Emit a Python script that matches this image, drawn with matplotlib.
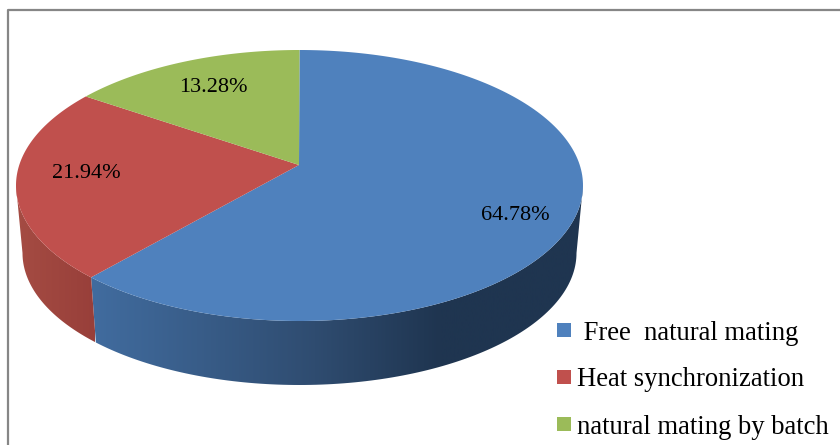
import numpy as np
import matplotlib
matplotlib.use('Agg')
import matplotlib.pyplot as plt
from matplotlib.patches import Polygon, Rectangle
from matplotlib.colors import LinearSegmentedColormap

plt.rcParams['font.family'] = ['Liberation Serif', 'DejaVu Serif']

# mating systems, share of herds in percent
categories = [' Free  natural mating', 'Heat synchronization', 'natural mating by batch']
shares = [64.78, 21.94, 13.28]
colors = ['#4F81BD', '#C0504D', '#9BBB59']

# tilted pie outline in pixels
cx, rx_top = 299.5, 283.5
cy_top, ry_top = 185.5, 135.5
cy_bot, rx_bot, ry_bot = 253.0, 277.0, 132.0
apex = (299.0, 165.0)


def warp(theta):
    # perspective squeeze of the clockwise angle (radians from 12 o'clock)
    return theta + np.radians(4.6) * np.sin(theta) * (1 - np.cos(theta))


def top_edge(t):
    return cx + rx_top * np.sin(t), cy_top - ry_top * np.cos(t)


def bot_edge(t):
    return cx + rx_bot * np.sin(t), cy_bot - ry_bot * np.cos(t)


def wall(t0, t1):
    t = np.linspace(t0, t1, 120)
    xa, ya = top_edge(t)
    xb, yb = bot_edge(t[::-1])
    return np.column_stack([np.r_[xa, xb], np.r_[ya, yb]])


def shaded(ax, pts, cmap, x0, x1):
    # horizontal gradient clipped to the side wall
    patch = Polygon(pts, closed=True, fc='none', ec='none')
    ax.add_patch(patch)
    grad = np.linspace(0, 1, 256).reshape(1, -1)
    im = ax.imshow(grad, cmap=cmap, extent=[x0, x1, 445, 0], aspect='auto', zorder=2)
    im.set_clip_path(patch)


fig = plt.figure(figsize=(8.4, 4.45), dpi=100)
ax = fig.add_axes([0, 0, 1, 1])
ax.set_xlim(0, 840)
ax.set_ylim(445, 0)
ax.axis('off')

# chart frame
ax.plot([7.5, 7.5, 840], [445, 10, 10], color='#868686', lw=1.6, zorder=1)

edges = np.radians(np.r_[0, np.cumsum(shares)] / sum(shares) * 360)
t_edges = warp(edges)

# side walls, only the front half of the rim shows
blue_cm = LinearSegmentedColormap.from_list('b', [(0, '#416C9F'), (0.45, '#2F4C70'), (0.7, '#1F3550'), (1, '#1F3550')])
red_cm = LinearSegmentedColormap.from_list('r', ['#A54C43', '#983F3A'])
shaded(ax, wall(np.pi / 2, t_edges[1]), blue_cm, 91, 590)
shaded(ax, wall(t_edges[1], 1.5 * np.pi), red_cm, 16, 95)

# top face
for i, c in enumerate(colors):
    t = np.linspace(t_edges[i], t_edges[i + 1], 200)
    xs, ys = top_edge(t)
    pts = np.column_stack([np.r_[apex[0], xs], np.r_[apex[1], ys]])
    ax.add_patch(Polygon(pts, closed=True, fc=c, ec='none', zorder=3))

# data labels
label_pos = [(515, 216), (86, 173), (213, 88)]
for (x, y), v in zip(label_pos, shares):
    ax.text(x, y, f'{v:.2f}%', fontsize=16, ha='center', va='center', color='black', zorder=4)

# legend
legend_y = [332, 379, 426]
for name, c, y in zip(categories, colors, legend_y):
    ax.add_patch(Rectangle((557, y - 9), 14, 14, fc=c, ec='none', zorder=4))
    ax.text(577, y + 1, name, fontsize=19.2, ha='left', va='center', color='black', zorder=4)

fig.savefig('out.png', dpi=100)
